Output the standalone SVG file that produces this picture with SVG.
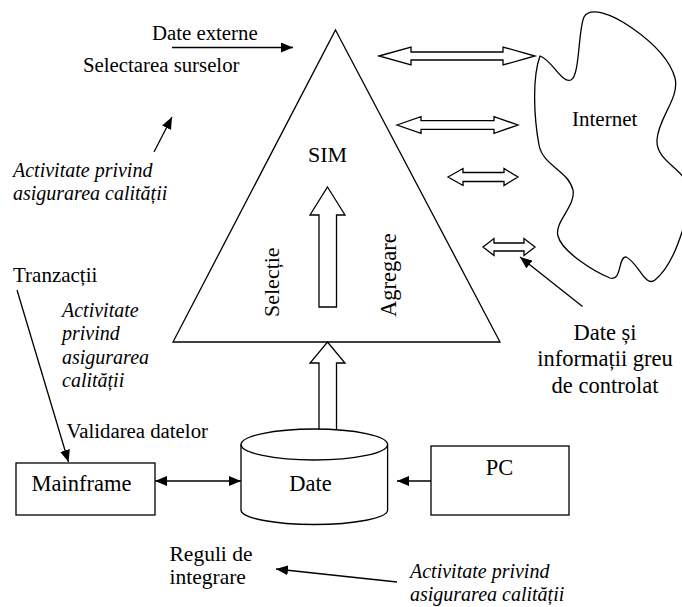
<svg xmlns="http://www.w3.org/2000/svg" width="682" height="607" viewBox="0 0 682 607">
<style>
text{font-family:'Liberation Serif','Times New Roman','DejaVu Serif',serif;fill:#000}
.i{font-style:italic}
.s{fill:#fff;stroke:#000;stroke-width:1.3}
.c{fill:none;stroke:#000;stroke-width:1.3}
.ln{fill:none;stroke:#000;stroke-width:1.3}
</style>
<defs>
<marker id="ah" markerUnits="userSpaceOnUse" markerWidth="13" markerHeight="10" refX="12" refY="5" orient="auto-start-reverse">
<path d="M0,0 L12,5 L0,10 Z" fill="#000"/>
</marker>
</defs>
<rect width="682" height="607" fill="#fff"/>

<g id="internet">
<path class="s" d="M540,56 C552,60 562,84 571,80 C580,76 578,30 584,17 C590,6 612,14 632,28 C655,44 670,60 675,78 C680,98 658,118 657,140 C656,158 676,166 684,178 L684,226 C680,238 672,266 655,280 C645,288 638,262 626,257 C618,256 622,282 610,278 C595,272 562,252 558,236 C554,222 576,206 573,190 C568,170 543,166 539,145 C534,118 532,78 540,56 Z"/>
<text font-family="Liberation Serif, serif" x="572" y="126" font-size="21">Internet</text>
</g>

<g id="sim">
<polygon class="s" points="335.5,30 500,342 173,342"/>
<polygon class="s" points="327.5,187 345,215 336.5,215 336.5,307 319,307 319,215 310,215"/>
<text font-family="Liberation Serif, serif" x="327.5" y="161.5" font-size="22" text-anchor="middle">SIM</text>
<text font-family="Liberation Serif, serif" font-size="22" transform="translate(279,317) rotate(-90)">Selecție</text>
<text font-family="Liberation Serif, serif" font-size="22.5" transform="translate(395.5,317) rotate(-90)">Agregare</text>
</g>

<g id="date">
<polygon class="s" points="327.5,342 345,363 336.5,363 336.5,431 319,431 319,363 310,363"/>
<path class="s" d="M241,444.5 L241,510 A73.3,14.5 0 0 0 387.6,510 L387.6,444.5 A73.3,15.5 0 0 0 241,444.5 Z"/>
<path class="c" d="M241,444.5 A73.3,15.5 0 0 0 387.6,444.5"/>
<text font-family="Liberation Serif, serif" x="310.5" y="491" font-size="22.5" text-anchor="middle">Date</text>
</g>

<g id="mainframe">
<rect class="s" x="16" y="463" width="139" height="52"/>
<text font-family="Liberation Serif, serif" x="31.5" y="491" font-size="22.5">Mainframe</text>
</g>

<g id="pc">
<rect class="s" x="431" y="446" width="138" height="69"/>
<text font-family="Liberation Serif, serif" x="499.5" y="474.5" font-size="22.5" text-anchor="middle">PC</text>
</g>

<g id="connectors">
<polygon class="s" points="379,56 411,47 411,52 503,52 503,47 535,56 503,65 503,60 411,60 411,65"/>
<polygon class="s" points="397,125 421,116.7 421,120.7 494,120.7 494,116.7 518,125 494,133.3 494,129.3 421,129.3 421,133.3"/>
<polygon class="s" points="448,177 463,168.5 463,172.5 504,172.5 504,168.5 518,177 504,185.5 504,181.5 463,181.5 463,185.5"/>
<polygon class="s" points="483,247 494,238.5 494,243 524,243 524,238.5 535,247 524,255.5 524,251 494,251 494,255.5"/>
<line class="ln" x1="172" y1="47.5" x2="293" y2="47.5" marker-end="url(#ah)"/>
<line class="ln" x1="154" y1="152" x2="172" y2="117" marker-end="url(#ah)"/>
<line class="ln" x1="17" y1="290" x2="68.5" y2="462" marker-end="url(#ah)"/>
<line class="ln" x1="155" y1="481" x2="241" y2="481" marker-start="url(#ah)" marker-end="url(#ah)"/>
<line class="ln" x1="431" y1="481" x2="397" y2="481" marker-end="url(#ah)"/>
<line class="ln" x1="397" y1="582" x2="276" y2="569" marker-end="url(#ah)"/>
<line class="ln" x1="582.5" y1="306.5" x2="520" y2="257" marker-end="url(#ah)"/>
</g>

<g id="labels" font-family="Liberation Serif, serif">
<text x="152" y="39.5" font-size="20.8">Date externe</text>
<text x="83" y="72" font-size="20.8">Selectarea surselor</text>
<text class="i" x="13" y="177" font-size="20">Activitate privind</text>
<text class="i" x="13" y="200" font-size="20">asigurarea calității</text>
<text x="13" y="282" font-size="21">Tranzacții</text>
<text class="i" x="62" y="317" font-size="20">Activitate</text>
<text class="i" x="62" y="340" font-size="20">privind</text>
<text class="i" x="62" y="363.5" font-size="20">asigurarea</text>
<text class="i" x="62" y="387" font-size="20">calității</text>
<text x="66.5" y="437.5" font-size="20.8">Validarea datelor</text>
<text x="169.5" y="561" font-size="21.5">Reguli de</text>
<text x="169.5" y="584" font-size="21.5">integrare</text>
<text class="i" x="410" y="578" font-size="20">Activitate privind</text>
<text class="i" x="410" y="601" font-size="20">asigurarea calității</text>
<text x="605" y="339.5" font-size="22.5" text-anchor="middle">Date și</text>
<text x="605" y="366" font-size="22.5" text-anchor="middle">informații greu</text>
<text x="605" y="392.5" font-size="22.5" text-anchor="middle">de controlat</text>
</g>
</svg>
